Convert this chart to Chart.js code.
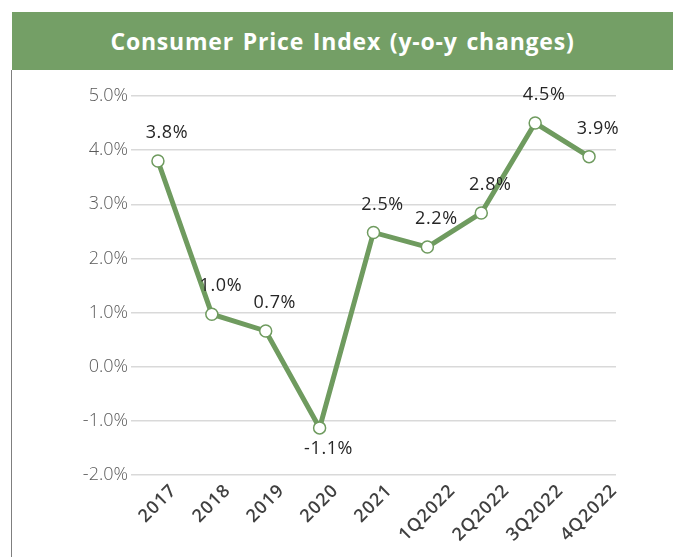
<!DOCTYPE html>
<html>
<head>
<meta charset="utf-8">
<script src="https://cdn.jsdelivr.net/npm/chart.js@4"></script>
<style>
  html, body { margin: 0; padding: 0; background: #fff; }
  #wrap { position: relative; width: 673px; height: 557px; overflow: hidden; }
  #header {
    position: absolute; left: 12px; top: 12px; width: 661px; height: 58px;
    background: #749f66; color: #fff;
    font-family: "Open Sans", sans-serif; font-weight: 700; font-size: 23px; letter-spacing: 0.8px; word-spacing: 2px;
    display: flex; align-items: center; justify-content: center;
  }
  #border { position: absolute; left: 11px; top: 70px; width: 0; height: 487px; border-left: 1.5px solid #7f7f7f; }
  #box { position: absolute; left: 12px; top: 70px; width: 661px; height: 487px; }
</style>
</head>
<body>
<div id="wrap">
  <div id="header">Consumer Price Index (y-o-y changes)</div>
  <div id="border"></div>
  <div id="box"><canvas id="cpiChart" width="661" height="487"></canvas></div>
</div>
<script>
const periods = ['2017', '2018', '2019', '2020', '2021', '1Q2022', '2Q2022', '3Q2022', '4Q2022'];
const cpiChanges = [3.8, 0.97, 0.66, -1.13, 2.48, 2.21, 2.84, 4.5, 3.88];
const yMin = -2;
const yMax = 5;

// value labels next to each point
const valueLabels = {
    id: 'valueLabels',
    afterDatasetsDraw(chart) {
        const ctx = chart.ctx;
        const meta = chart.getDatasetMeta(0);
        ctx.save();
        ctx.font = '18px "Open Sans", sans-serif';
        ctx.letterSpacing = '0.6px';
        ctx.fillStyle = '#262626';
        ctx.textAlign = 'center';
        ctx.textBaseline = 'middle';
        meta.data.forEach((pt, i) => {
            const v = cpiChanges[i];
            const dy = v < 0 ? 21 : -28;
            ctx.fillText(v.toFixed(1) + '%', pt.x + 9, pt.y + dy);
        });
        ctx.restore();
    }
};

// rotated category labels, centred on their tick (Excel style)
const centredXLabels = {
    id: 'centredXLabels',
    afterDraw(chart) {
        const ctx = chart.ctx;
        const xs = chart.scales.x;
        const base = chart.chartArea.bottom;
        ctx.save();
        ctx.font = '600 18px "Open Sans", sans-serif';
        ctx.letterSpacing = '1px';
        ctx.fillStyle = '#404040';
        ctx.textAlign = 'center';
        ctx.textBaseline = 'middle';
        periods.forEach((lab, i) => {
            const x = xs.getPixelForTick(i);
            const w = ctx.measureText(lab).width;
            const ext = (w + 13) * Math.SQRT1_2;
            ctx.save();
            ctx.translate(x, base + 8 + ext / 2);
            ctx.rotate(-Math.PI / 4);
            ctx.fillText(lab, 0, 0);
            ctx.restore();
        });
        ctx.restore();
    }
};

document.addEventListener('DOMContentLoaded', () => {
    const ctx = document.getElementById('cpiChart').getContext('2d');
    new Chart(ctx, {
        type: 'line',
        data: {
            labels: periods,
            datasets: [{
                label: 'CPI y-o-y',
                data: cpiChanges,
                borderColor: '#6f9b5f',
                borderWidth: 5,
                pointRadius: 6,
                pointBorderWidth: 1.5,
                pointBackgroundColor: '#ffffff',
                pointBorderColor: '#6f9b5f',
                tension: 0
            }]
        },
        options: {
            responsive: false,
            animation: false,
            layout: { padding: { top: 26, right: 57, left: 0, bottom: 0 } },
            plugins: { legend: { display: false }, tooltip: { enabled: false } },
            scales: {
                y: {
                    min: yMin,
                    max: yMax,
                    afterFit: s => { s.width = 119; },
                    border: { display: false },
                    grid: { color: '#d9d9d9', lineWidth: 1.5, drawTicks: false },
                    ticks: {
                        stepSize: 1,
                        padding: 3,
                        color: '#595959',
                        font: { family: '"Open Sans", sans-serif', size: 18, weight: 300 },
                        callback: v => v.toFixed(1) + '%'
                    }
                },
                x: {
                    offset: true,
                    afterFit: s => { s.height = 82; },
                    border: { display: false },
                    grid: { display: false },
                    ticks: { display: false }
                }
            }
        },
        plugins: [valueLabels, centredXLabels]
    });
});
</script>
</body>
</html>
